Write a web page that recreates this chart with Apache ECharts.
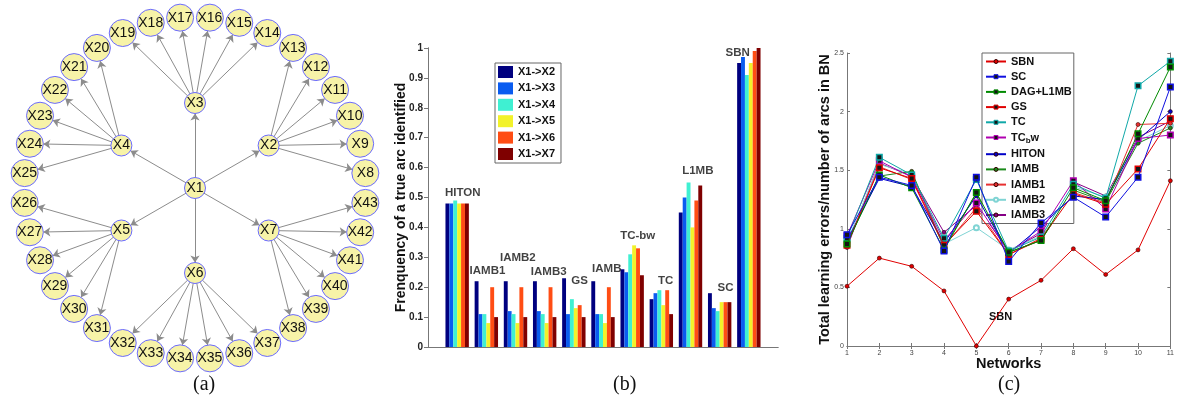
<!DOCTYPE html>
<html><head><meta charset="utf-8">
<script src="https://cdn.jsdelivr.net/npm/echarts@6/dist/echarts.min.js"></script>
<style>html,body{margin:0;padding:0;background:#fff}#c{width:1177px;height:409px}</style>
</head><body><div id="c"></div>
<script>
// ---------------- DATA ----------------
// (a) network structure
const rootNode = 'X1';
const hubNodes = ['X2','X3','X4','X5','X6','X7'];
const leafX2 = ['X8','X9','X10','X11','X12','X13'];
const leafX3 = ['X14','X15','X16','X17','X18','X19'];
const leafX4 = ['X20','X21','X22','X23','X24','X25'];
const leafX5 = ['X26','X27','X28','X29','X30','X31'];
const leafX6 = ['X32','X33','X34','X35','X36','X37'];
const leafX7 = ['X38','X39','X40','X41','X42','X43'];

// (b) bar chart
const barGroups = ['HITON','IAMB1','IAMB2','IAMB3','GS','IAMB','TC-bw','TC','L1MB','SC','SBN'];
const barSeriesNames = ['X1->X2','X1->X3','X1->X4','X1->X5','X1->X6','X1->X7'];
const arcX2 = [0.48,0.22,0.22,0.22,0.23,0.22,0.26,0.16,0.45,0.18,0.95];
const arcX3 = [0.48,0.11,0.12,0.12,0.11,0.11,0.25,0.18,0.50,0.13,0.97];
const arcX4 = [0.49,0.11,0.11,0.11,0.16,0.11,0.31,0.19,0.55,0.12,0.91];
const arcX5 = [0.48,0.08,0.08,0.08,0.13,0.08,0.34,0.14,0.40,0.15,0.95];
const arcX6 = [0.48,0.20,0.20,0.20,0.14,0.20,0.33,0.19,0.49,0.15,0.99];
const arcX7 = [0.48,0.10,0.10,0.10,0.10,0.10,0.24,0.11,0.54,0.15,1.00];
const barTicks = [0,0.1,0.2,0.3,0.4,0.5,0.6,0.7,0.8,0.9,1];

// (c) line chart
const networks = [1,2,3,4,5,6,7,8,9,10,11];
const lineNames = ['SBN','SC','DAG+L1MB','GS','TC','TCbw','HITON','IAMB','IAMB1','IAMB2','IAMB3'];
const errSBN   = [0.51,0.75,0.68,0.47,0.00,0.40,0.56,0.83,0.61,0.82,1.41];
const errSC    = [0.95,1.44,1.37,0.81,1.44,0.72,1.05,1.27,1.10,1.44,2.21];
const errDAG   = [0.87,1.46,1.35,0.82,1.31,0.80,0.90,1.35,1.24,1.81,2.38];
const errGS    = [0.86,1.52,1.43,0.86,1.15,0.78,0.91,1.30,1.21,1.51,1.94];
const errTC    = [0.92,1.61,1.46,0.92,1.42,0.81,0.93,1.38,1.26,2.22,2.43];
const errTCbw  = [0.94,1.58,1.44,0.90,1.22,0.80,0.98,1.41,1.17,1.77,1.80];
const errHITON = [0.90,1.43,1.36,0.88,1.28,0.79,1.02,1.28,1.25,1.76,2.00];
const errIAMB  = [0.88,1.45,1.49,0.84,1.30,0.80,0.90,1.33,1.23,1.73,1.86];
const errIAMB1 = [0.86,1.53,1.42,0.85,1.18,0.78,0.92,1.31,1.22,1.89,1.90];
const errIAMB2 = [0.89,1.55,1.47,0.87,1.01,0.82,0.94,1.36,1.27,1.75,1.88];
const errIAMB3 = [0.84,1.56,1.45,0.97,1.20,0.81,0.96,1.40,1.28,1.78,1.92];

// ---------------- BUILD ----------------
const F = '"Liberation Sans", Arial, sans-serif';
const leafSets = [leafX2, leafX3, leafX4, leafX5, leafX6, leafX7];

// circular tree layout for (a)
const cx = 195, cy = 188, rHub = 85, rLeaf = 171;
const nodes = [{name: rootNode, x: cx, y: cy, symbolSize: 21}];
const links = [];
hubNodes.forEach((h, k) => {
  const a = (30 + 60 * k) * Math.PI / 180;
  nodes.push({name: h, x: cx + rHub * Math.cos(a), y: cy - rHub * Math.sin(a), symbolSize: 21});
  links.push({source: rootNode, target: h});
  leafSets[k].forEach((l, j) => {
    const b = (5 + 10 * (6 * k + j)) * Math.PI / 180;
    nodes.push({name: l, x: cx + rLeaf * Math.cos(b), y: cy - rLeaf * Math.sin(b), symbolSize: 27});
    links.push({source: h, target: l});
  });
});
const xs = nodes.map(n => n.x), ys = nodes.map(n => n.y);
const bx0 = Math.min(...xs), bx1 = Math.max(...xs), by0 = Math.min(...ys), by1 = Math.max(...ys);

const barValues = [arcX2, arcX3, arcX4, arcX5, arcX6, arcX7];
const barColors = ['#00007f', '#0a5cf0', '#3ff0d2', '#f2f22a', '#ff4d14', '#7f0000'];
// annotation offsets of the group names
const grpLabelDx = [0.19,0.04,0.08,0.14,0.2,0.13,0.19,0.15,0.25,0.2,-0.38];
const grpLabelY  = [0.515,0.254,0.298,0.251,0.221,0.26,0.371,0.221,0.589,0.198,0.983];

const lineValues = [errSBN, errSC, errDAG, errGS, errTC, errTCbw, errHITON, errIAMB, errIAMB1, errIAMB2, errIAMB3];
const lineColors = ['#e00000','#1010e0','#008a00','#e00000','#10a8a8','#b000b0','#0000c8','#1a8a1a','#e83030','#80d4d4','#860086'];
const lineSym    = ['circle','rect','rect','rect','rect','rect','circle','circle','circle','emptyCircle','circle'];

const series = [];
series.push({
  type: 'graph', layout: 'none', roam: false, silent: true,
  left: bx0, top: by0, width: bx1 - bx0, height: by1 - by0,
  symbol: 'circle',
  itemStyle: {color: '#f7f3a8', borderColor: '#6b6bff', borderWidth: 1},
  label: {show: true, position: 'inside', fontSize: 14, fontFamily: F, color: '#111'},
  edgeSymbol: ['none', 'arrow'], edgeSymbolSize: [0, 7],
  lineStyle: {color: '#8c8c8c', width: 1, opacity: 1},
  data: nodes, links: links
});
barSeriesNames.forEach((n, s) => {
  series.push({
    type: 'bar', name: n, xAxisIndex: 0, yAxisIndex: 0,
    barWidth: 3.9, barGap: '0%',
    itemStyle: {color: barColors[s]},
    data: barValues[s].map((v, i) => [i + 1, v])
  });
});
series.push({
  type: 'scatter', name: 'groupNames', xAxisIndex: 0, yAxisIndex: 0, symbolSize: 0, silent: true,
  label: {show: true, position: 'inside', formatter: p => p.name, fontSize: 11.5, fontWeight: 'bold', fontFamily: F, color: '#111'},
  data: barGroups.map((g, i) => ({name: g, value: [i + 1 + grpLabelDx[i], grpLabelY[i]]}))
});
lineNames.forEach((n, s) => {
  const isRect = lineSym[s] === 'rect';
  const isEmpty = lineSym[s] === 'emptyCircle';
  const ser = {
    type: 'line', name: n, xAxisIndex: 2, yAxisIndex: 2,
    symbol: lineSym[s], symbolSize: isRect ? 5.5 : (isEmpty ? 5 : 4), showSymbol: true,
    lineStyle: {color: lineColors[s], width: 1},
    itemStyle: isRect ? {color: '#151515', borderColor: lineColors[s], borderWidth: 1.5}
              : (isEmpty ? {color: lineColors[s], borderColor: lineColors[s], borderWidth: 1}
                         : {color: lineColors[s], borderColor: '#300', borderWidth: 0.6}),
    z: 10 - s,
    data: lineValues[s].map((v, i) => [networks[i], v])
  };
  if (n === 'SBN') {
    ser.markPoint = {symbolSize: 0, silent: true, data: [{coord: [5.75, 0.25]}],
      label: {show: true, position: 'inside', formatter: 'SBN', fontSize: 11, fontWeight: 'bold', fontFamily: F, color: '#111'}};
  }
  series.push(ser);
});

const axLine = {show: true, lineStyle: {color: '#777', width: 1}};
const option = {
  animation: false,
  backgroundColor: '#fff',
  textStyle: {fontFamily: F},
  grid: [
    {left: 428, top: 48, width: 350, height: 299},
    {left: 847, top: 53, width: 326, height: 293}
  ],
  xAxis: [
    {type: 'value', gridIndex: 0, min: 0, max: 12, interval: 1, position: 'bottom', axisLine: axLine, axisTick: {show: false}, axisLabel: {show: false}, splitLine: {show: false}},
    {type: 'value', gridIndex: 0, min: 0, max: 12, interval: 1, position: 'top', axisLine: axLine, axisTick: {show: false}, axisLabel: {show: false}, splitLine: {show: false}},
    {type: 'value', gridIndex: 1, min: 1, max: 11, interval: 1, position: 'bottom', axisLine: axLine,
     axisTick: {show: true, inside: true, length: 3, lineStyle: {color: '#777'}},
     axisLabel: {show: true, fontSize: 7, color: '#444', margin: 4},
     splitLine: {show: false},
     name: 'Networks', nameLocation: 'middle', nameGap: 10, nameMoveOverlap: false,
     nameTextStyle: {fontSize: 14.5, fontWeight: 'bold', color: '#111', fontFamily: F}},
    {type: 'value', gridIndex: 1, min: 1, max: 11, interval: 1, position: 'top', axisLine: axLine,
     axisTick: {show: true, inside: true, length: 3, lineStyle: {color: '#777'}}, axisLabel: {show: false}, splitLine: {show: false}}
  ],
  yAxis: [
    {type: 'value', gridIndex: 0, min: barTicks[0], max: barTicks[barTicks.length - 1], interval: 0.1, position: 'left', axisLine: axLine,
     axisTick: {show: true, length: 3, lineStyle: {color: '#777'}},
     axisLabel: {fontSize: 10, fontWeight: 'bold', color: '#222', margin: 5},
     splitLine: {show: false},
     name: 'Frenquency of a true arc identified', nameLocation: 'middle', nameGap: 20, nameMoveOverlap: false,
     nameTextStyle: {fontSize: 14, fontWeight: 'bold', color: '#111', fontFamily: F}},
    {type: 'value', gridIndex: 0, min: 0, max: 1, interval: 0.1, position: 'right', axisLine: axLine,
     axisTick: {show: true, inside: true, length: 4, lineStyle: {color: '#777'}}, axisLabel: {show: false}, splitLine: {show: false}},
    {type: 'value', gridIndex: 1, min: 0, max: 2.5, interval: 0.5, position: 'left', axisLine: axLine,
     axisTick: {show: true, inside: true, length: 3, lineStyle: {color: '#777'}},
     axisLabel: {fontSize: 7, color: '#444', margin: 3},
     splitLine: {show: false},
     name: 'Total learning errors/number of arcs in BN', nameLocation: 'middle', nameGap: 15, nameMoveOverlap: false,
     nameTextStyle: {fontSize: 14.5, fontWeight: 'bold', color: '#111', fontFamily: F}},
    {type: 'value', gridIndex: 1, min: 0, max: 2.5, interval: 0.5, position: 'right', axisLine: axLine,
     axisTick: {show: true, inside: true, length: 3, lineStyle: {color: '#777'}}, axisLabel: {show: false}, splitLine: {show: false}}
  ],
  legend: [
    {data: barSeriesNames, orient: 'vertical', left: 495, top: 63, icon: 'rect',
     itemWidth: 15, itemHeight: 12, itemGap: 4.4, padding: [3, 6, 3, 3],
     borderColor: '#666', borderWidth: 1, backgroundColor: '#fff', selectedMode: false,
     textStyle: {fontSize: 11, fontWeight: 'bold', color: '#111', fontFamily: F}},
    {data: lineNames, orient: 'vertical', left: 982, top: 53,
     itemWidth: 20, itemHeight: 5, itemGap: 3.2, padding: [2.5, 2, 2.5, 3],
     borderColor: '#666', borderWidth: 1, backgroundColor: '#fff', selectedMode: false,
     itemStyle: {borderWidth: 1},
     formatter: n => n === 'TCbw' ? '{m|TC}{s|b}{m|w}' : n,
     textStyle: {fontSize: 11, fontWeight: 'bold', color: '#111', fontFamily: F, lineHeight: 12,
       rich: {m: {fontSize: 11, fontWeight: 'bold', color: '#111', fontFamily: F},
              s: {fontSize: 8, fontWeight: 'bold', color: '#111', fontFamily: F, padding: [7, 0, 0, 0]}}}}
  ],
  graphic: [
    {type: 'text', left: 193, top: 375, style: {text: '(a)', fontSize: 20, fontFamily: '"Liberation Serif", "Times New Roman", serif', fill: '#111'}},
    {type: 'text', left: 613, top: 375, style: {text: '(b)', fontSize: 20, fontFamily: '"Liberation Serif", "Times New Roman", serif', fill: '#111'}},
    {type: 'text', left: 998, top: 375, style: {text: '(c)', fontSize: 20, fontFamily: '"Liberation Serif", "Times New Roman", serif', fill: '#111'}}
  ],
  series: series
};
const chart = echarts.init(document.getElementById('c'));
chart.setOption(option);
</script>
</body></html>
